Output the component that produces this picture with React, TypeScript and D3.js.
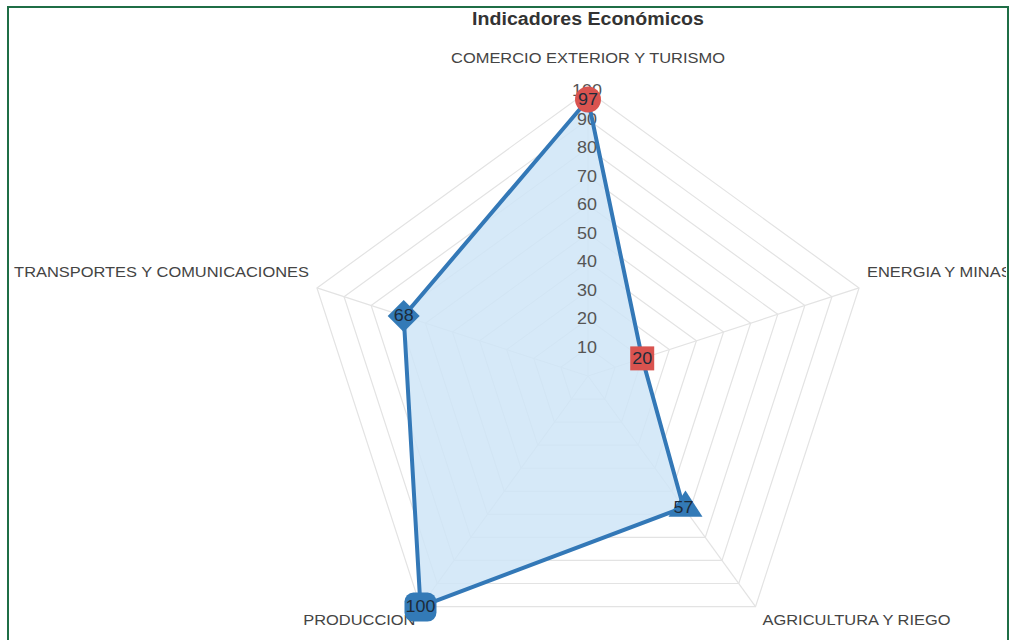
import React from "react";
import * as d3 from "d3";

const title = "Indicadores Económicos";
const categories = [
  "COMERCIO EXTERIOR Y TURISMO",
  "ENERGIA Y MINAS",
  "AGRICULTURA Y RIEGO",
  "PRODUCCION",
  "TRANSPORTES Y COMUNICACIONES",
];
const values = [97, 20, 57, 100, 68];
const markerShapes = ["circle", "square", "triangle", "rounded", "diamond"];
const markerColors = ["#d9534f", "#d9534f", "#337ab7", "#337ab7", "#337ab7"];
const tickValues = [10, 20, 30, 40, 50, 60, 70, 80, 90, 100];

const W = 1010;
const H = 640;
const cx = 588;
const cy = 376;
const R = 285;

function SText(props: {
  x: number;
  y: number;
  sx: number;
  size: number;
  anchor?: string;
  weight?: string;
  fill: string;
  children: React.ReactNode;
}) {
  const { x, y, sx, size, anchor, weight, fill, children } = props;
  return (
    <text
      transform={`translate(${x},${y}) scale(${sx},1)`}
      textAnchor={anchor || "middle"}
      dominantBaseline="central"
      fontSize={size}
      fontWeight={weight || "normal"}
      fill={fill}
    >
      {children}
    </text>
  );
}

export default function App() {
  const r = d3.scaleLinear().domain([0, 100]).range([0, R]);
  const n = categories.length;
  const angle = d3.scaleLinear().domain([0, n]).range([0, 2 * Math.PI]);
  const pt = (i: number, v: number): [number, number] => {
    const a = angle(i);
    return [cx + r(v) * Math.sin(a), cy - r(v) * Math.cos(a)];
  };
  const closedLine = d3.line<[number, number]>().curve(d3.curveLinearClosed);

  const gridPolys = tickValues.map((t) =>
    closedLine(categories.map((_, i) => pt(i, t)))
  );
  const dataPts = values.map((v, i) => pt(i, v));
  const dataPath = closedLine(dataPts);

  const labelPos = categories.map((c, i) => {
    const [x, y] = pt(i, 100);
    const s = Math.sin(angle(i));
    const co = Math.cos(angle(i));
    let anchor = "middle";
    let dx = 0;
    let dy = 0;
    if (Math.abs(s) < 0.01) {
      dy = -33;
    } else {
      anchor = s > 0 ? "start" : "end";
      if (co > 0) {
        dx = s > 0 ? 8 : -8;
        dy = -16;
      } else {
        dx = s > 0 ? 7 : -5;
        dy = 13;
      }
    }
    return { c, x: x + dx, y: y + dy, anchor };
  });

  const marker = (shape: string, color: string, x: number, y: number, key: number) => {
    switch (shape) {
      case "circle":
        return <circle key={key} cx={x} cy={y} r={13} fill={color} />;
      case "square":
        return <rect key={key} x={x - 12} y={y - 12} width={24} height={24} fill={color} />;
      case "triangle": {
        const s = 17;
        const p = closedLine([
          [x + 2, y - s],
          [x + s + 2, y + s * 0.55],
          [x - s + 2, y + s * 0.55],
        ]);
        return <path key={key} d={p || ""} fill={color} />;
      }
      case "rounded":
        return <rect key={key} x={x - 16} y={y - 14} width={32} height={29} rx={9} fill={color} />;
      case "diamond": {
        const s = 16;
        const p = closedLine([
          [x, y - s],
          [x + s, y],
          [x, y + s],
          [x - s, y],
        ]);
        return <path key={key} d={p || ""} fill={color} />;
      }
      default:
        return null;
    }
  };

  return (
    <svg
      width={W}
      height={H}
      style={{ position: "absolute", left: 0, top: 0, background: "#fff" }}
      fontFamily="'Liberation Sans', Arial, sans-serif"
    >
      <defs>
        <clipPath id="box">
          <rect x={9} y={8} width={997} height={700} />
        </clipPath>
      </defs>
      <rect x={8} y={7} width={1000} height={700} fill="#fff" stroke="#1f6e46" strokeWidth={2} />
      <SText x={cx} y={19} sx={1.12} size={17.5} weight="bold" fill="#333">
        {title}
      </SText>
      <g clipPath="url(#box)">
        {gridPolys.map((d, i) => (
          <path key={i} d={d || ""} fill="none" stroke="#e3e3e3" strokeWidth={1.2} />
        ))}
        {categories.map((_, i) => {
          const [x, y] = pt(i, 100);
          return <line key={i} x1={cx} y1={cy} x2={x} y2={y} stroke="#e3e3e3" strokeWidth={1.2} />;
        })}
        <path d={dataPath || ""} fill="#cfe5f7" fillOpacity={0.85} stroke="none" />
        {tickValues.map((t) => (
          <SText key={t} x={cx - 1} y={cy - r(t)} sx={1.12} size={16} fill="#555">
            {t}
          </SText>
        ))}
        <path d={dataPath || ""} fill="none" stroke="#3378b7" strokeWidth={4} strokeLinejoin="miter" />
        {labelPos.map((l, i) => (
          <SText key={i} x={l.x} y={l.y} sx={1.06} size={15.5} anchor={l.anchor} fill="#444">
            {l.c}
          </SText>
        ))}
        {dataPts.map(([x, y], i) => marker(markerShapes[i], markerColors[i], x, y, i))}
        {dataPts.map(([x, y], i) => (
          <SText key={i} x={x} y={y} sx={1.12} size={16} fill="#1d2b3a">
            {values[i]}
          </SText>
        ))}
      </g>
    </svg>
  );
}
